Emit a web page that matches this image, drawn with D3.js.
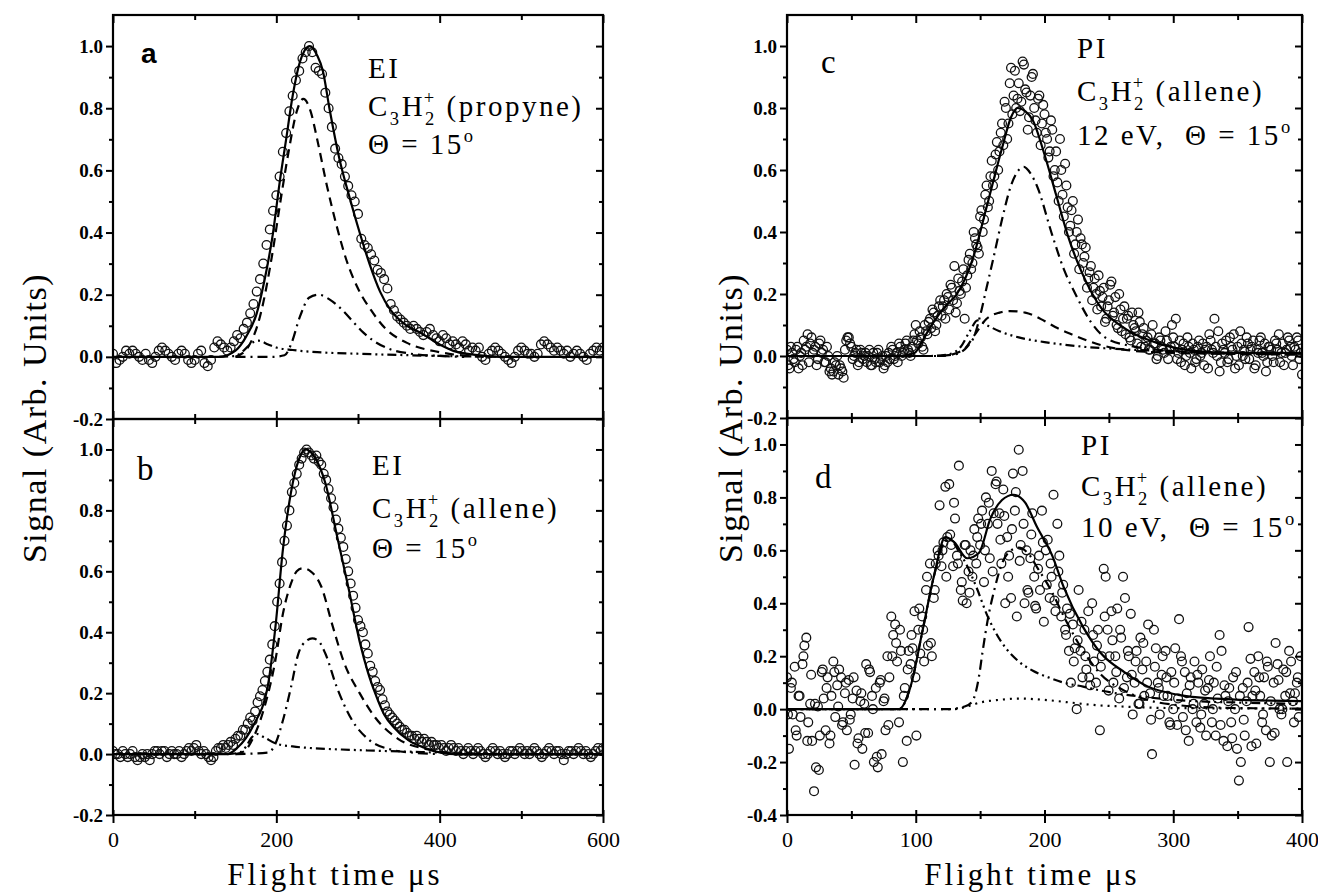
<!DOCTYPE html>
<html>
<head>
    <style>
        html, body { margin: 0; padding: 0; background: #fff; overflow: hidden; }
    </style>
</head>
<body>
<script src="https://d3js.org/d3.v7.min.js"></script>
<script>
    const width = 1318;
    const height = 894;
    const serif = "'Liberation Serif', 'Times New Roman', serif";

    // ---- tick values ----
    const xTicksEI = [0, 200, 400, 600];
    const xMinorEI = [100, 300, 500];
    const xTicksPI = [0, 100, 200, 300, 400];
    const xMinorPI = [50, 150, 250, 350];
    const yTicksAB = [-0.2, 0, 0.2, 0.4, 0.6, 0.8, 1.0];
    const yMinorAB = [-0.1, 0.1, 0.3, 0.5, 0.7, 0.9];
    const yTicksD = [-0.4, -0.2, 0, 0.2, 0.4, 0.6, 0.8, 1.0];
    const yMinorD = [-0.3, -0.1, 0.1, 0.3, 0.5, 0.7, 0.9];

    // ---- panel a : EI, propyne (signal sampled every 4 us from 0) ----
    const aSignal = [
        0.01,-0.02,-0.01,0.00,0.02,0.01,0.02,0.01,0.00,-0.01,0.01,-0.01,-0.02,0.00,0.02,0.03,0.02,0.01,0.00,-0.01,
        0.01,0.02,0.01,-0.01,-0.02,-0.01,0.01,0.02,-0.02,-0.03,-0.01,0.03,0.05,0.04,0.03,0.02,
        0.03,0.05,0.07,0.06,0.09,0.11,0.14,0.17,0.21,0.25,0.30,0.36,0.41,0.47,0.52,0.58,0.66,0.72,0.79,0.84,0.89,0.92,0.96,0.98,1.00,
        0.98,0.93,0.92,0.91,0.85,0.80,0.74,0.67,0.64,0.62,0.58,0.55,0.52,0.50,0.46,0.38,0.36,0.35,0.33,0.31,0.28,0.27,0.25,0.22,0.17,
        0.15,0.13,0.12,0.11,0.10,0.09,0.10,0.09,0.08,0.07,0.08,0.09,0.07,0.06,0.05,0.07,0.06,0.04,0.05,0.04,0.03,0.05,0.04,0.02,0.03,
        0.02,0.03,0.00,-0.01,0.01,0.02,0.03,0.02,0.01,0.00,-0.01,-0.02,0.00,0.02,0.03,0.02,0.01,0.01,0.00,0.01,
        0.04,0.05,0.04,0.03,0.02,0.03,0.02,0.01,0.02,0.00,0.01,0.02,0.01,0.00,-0.01,0.01,0.02,0.03,0.02,0.03
    ];
    const aTotal = [[0,0],[130,0],[150,0.02],[163,0.065],[176,0.14],[185,0.24],[196,0.40],[204,0.56],[212,0.70],[220,0.84],[229,0.95],[241,1.0],[250,0.97],[257,0.92],[265,0.80],[277,0.64],[290,0.51],[302,0.40],[314,0.30],[327,0.21],[340,0.15],[360,0.10],[377,0.077],[400,0.04],[421,0.016],[450,0.005],[480,0],[600,0]];
    const aDashed = [[150,0],[165,0.03],[180,0.13],[195,0.33],[205,0.50],[215,0.66],[225,0.79],[233,0.83],[242,0.79],[250,0.70],[262,0.55],[274,0.42],[286,0.31],[300,0.22],[316,0.15],[334,0.09],[360,0.045],[400,0.015],[430,0.004],[460,0]];
    const aDashDot = [[150,0],[195,0],[210,0.005],[218,0.04],[229,0.13],[240,0.19],[252,0.2],[265,0.185],[281,0.15],[295,0.11],[307,0.077],[320,0.05],[334,0.03],[365,0.01],[400,0.003],[430,0]];
    const aDashDotDot = [[130,0],[150,0.003],[160,0.02],[170,0.045],[178,0.052],[190,0.04],[200,0.03],[220,0.022],[250,0.015],[300,0.01],[350,0.006],[400,0.003],[450,0.001],[480,0]];

    // ---- panel b : EI, allene (signal sampled every 3 us from 0) ----
    const bSignal = [
        0.01,0.00,0.00,-0.01,0.01,0.00,-0.01,0.00,0.01,-0.01,-0.02,-0.01,0.00,-0.01,0.00,-0.02,0.00,0.01,0.01,0.00,
        0.01,0.01,-0.01,0.00,0.01,0.00,0.00,0.01,-0.01,0.00,0.01,0.02,0.01,0.02,0.03,0.01,0.00,0.01,0.00,-0.01,
        -0.02,-0.01,0.01,0.02,0.02,0.03,0.02,
        0.03,0.04,0.03,0.05,0.06,0.06,0.08,0.08,0.10,0.12,0.11,0.14,0.17,0.19,0.21,0.24,0.27,0.31,0.36,0.42,
        0.50,0.56,0.63,0.70,0.75,0.80,0.86,0.89,0.92,0.95,0.97,0.99,1.00,
        0.99,0.98,0.97,0.98,0.96,0.95,0.92,0.90,0.87,0.84,0.81,0.77,0.74,0.71,0.68,0.64,0.60,0.56,0.52,0.48,
        0.44,0.42,0.40,0.36,0.33,0.29,0.27,0.24,0.22,0.21,0.18,0.16,0.14,
        0.13,0.12,0.11,0.10,0.09,0.08,0.08,0.07,0.06,0.06,0.05,0.06,0.05,0.04,0.05,0.04,0.03,0.04,0.03,0.03,
        0.02,0.03,0.02,0.01,0.02,0.03,0.02,0.01,0.02,0.01,0.00,0.01,0.02,0.01,
        0.00,0.01,0.02,0.01,0.00,-0.01,0.00,0.01,0.02,0.01,0.00,0.01,0.00,-0.01,0.00,0.01,0.01,0.00,0.01,0.02,
        0.01,0.00,0.01,0.00,0.01,0.02,0.01,0.00,-0.01,0.00,0.01,0.02,0.01,0.00,0.01,0.01,0.00,-0.02,0.00,0.01,
        0.01,0.00,0.01,0.02,0.01,0.00,0.01,0.00,-0.01,0.00,0.01,0.02,0.01,0.02
    ];
    const bTotal = [[0,0],[140,0],[152,0.02],[171,0.09],[190,0.23],[199,0.42],[208,0.67],[218,0.86],[228,0.97],[236,1.0],[248,0.97],[260,0.89],[274,0.72],[288,0.55],[302,0.37],[312,0.27],[321,0.20],[332,0.13],[344,0.087],[362,0.045],[382,0.02],[401,0.005],[420,0],[600,0]];
    const bDashed = [[150,0],[161,0.01],[171,0.05],[185,0.15],[199,0.31],[208,0.46],[218,0.56],[225,0.60],[232,0.61],[242,0.60],[255,0.55],[269,0.42],[283,0.30],[302,0.20],[321,0.12],[349,0.05],[386,0.015],[410,0.004],[430,0]];
    const bDashDot = [[150,0],[190,0.005],[199,0.035],[208,0.11],[218,0.22],[227,0.33],[236,0.37],[244,0.38],[252,0.37],[260,0.33],[274,0.22],[293,0.11],[312,0.05],[340,0.015],[370,0.004],[400,0]];
    const bDashDotDot = [[140,0],[155,0.005],[163,0.025],[170,0.055],[176,0.066],[185,0.055],[199,0.035],[220,0.025],[241,0.02],[280,0.015],[311,0.012],[360,0.008],[401,0.005],[440,0.002],[470,0]];

    // ---- panel c : PI 12 eV (two interleaved scans, every 2 us from 0 and from 1) ----
    const cSignal = [
        0.02,-0.04,0.01,-0.02,0.03,0.00,-0.03,0.02,0.07,0.04,
        0.01,0.03,-0.01,0.05,0.02,-0.02,0.00,-0.04,-0.05,-0.03,
        -0.06,-0.04,-0.07,0.05,0.06,0.03,0.00,0.02,-0.02,0.01,
        0.00,-0.02,0.02,-0.03,-0.01,0.01,-0.02,0.00,-0.03,-0.02,
        -0.01,0.02,0.00,-0.02,0.03,0.01,0.04,0.02,0.00,0.05,
        0.10,0.04,0.06,0.02,0.08,0.11,0.09,0.14,0.10,0.16,
        0.13,0.18,0.20,0.15,0.22,0.29,0.17,0.21,0.24,0.12,
        0.26,0.33,0.30,0.38,0.35,0.45,0.40,0.52,0.48,0.58,
        0.55,0.65,0.60,0.72,0.68,0.80,0.75,0.93,0.84,0.80,
        0.88,0.82,0.94,0.85,0.77,0.90,0.80,0.72,0.84,0.75,
        0.78,0.70,0.66,0.73,0.60,0.56,0.70,0.52,0.62,0.48,
        0.42,0.50,0.36,0.44,0.38,0.30,0.35,0.25,0.29,0.22,
        0.20,0.26,0.16,0.22,0.12,0.18,0.24,0.14,0.10,0.20,
        0.08,0.16,0.12,0.06,0.14,0.09,0.04,0.11,0.07,0.03,
        0.06,0.02,0.10,0.04,0.00,0.05,0.02,0.08,-0.01,0.03,
        0.06,0.12,0.01,-0.02,0.04,0.00,0.03,-0.04,0.02,-0.01,
        0.05,0.01,-0.03,0.03,0.07,0.02,0.12,0.00,-0.05,0.04,
        0.01,-0.02,0.06,0.02,-0.04,0.03,0.08,0.00,-0.01,0.04,
        0.02,0.05,-0.03,0.01,0.06,0.00,-0.05,0.03,0.02,-0.02,
        0.04,0.07,0.01,-0.03,0.02,0.05,0.00,0.03,0.06,-0.01,
        -0.06
    ];
    const cSignalOdd = [
        -0.03,0.03,-0.01,0.02,-0.04,0.01,0.05,0.03,-0.02,0.06,
        0.02,-0.03,0.04,0.01,-0.02,0.03,-0.05,-0.06,-0.02,0.00,
        -0.03,-0.05,0.02,0.06,0.04,-0.01,0.01,-0.03,0.02,-0.01,
        0.01,0.00,-0.03,0.01,-0.02,0.02,-0.01,-0.04,0.00,0.01,
        0.03,-0.01,0.01,0.04,0.00,0.02,0.05,0.01,0.03,0.07,
        0.05,0.08,0.03,0.10,0.07,0.12,0.15,0.08,0.13,0.18,
        0.16,0.12,0.19,0.23,0.18,0.14,0.25,0.20,0.28,0.22,
        0.31,0.28,0.40,0.36,0.33,0.47,0.44,0.55,0.50,0.63,
        0.58,0.69,0.66,0.75,0.82,0.70,0.88,0.78,0.92,0.83,
        0.79,0.95,0.86,0.73,0.84,0.91,0.76,0.83,0.68,0.81,
        0.72,0.64,0.76,0.58,0.66,0.50,0.60,0.45,0.55,0.40,
        0.47,0.33,0.40,0.28,0.36,0.32,0.22,0.27,0.18,0.25,
        0.15,0.21,0.19,0.11,0.16,0.23,0.13,0.19,0.09,0.15,
        0.12,0.07,0.13,0.05,0.10,0.08,0.14,0.03,0.09,0.05,
        0.02,0.07,0.04,-0.01,0.06,0.03,0.01,0.05,0.02,0.10,
        0.03,-0.01,0.05,0.02,-0.03,0.06,0.01,0.04,-0.02,0.03,
        0.00,0.04,0.02,-0.04,0.05,0.01,0.03,0.08,-0.02,0.02,
        0.05,-0.01,0.03,0.07,0.00,-0.03,0.04,0.02,0.06,-0.01,
        0.03,-0.04,0.02,0.05,0.01,0.04,-0.02,0.03,0.00,0.05,
        0.02,-0.02,0.04,0.01,0.06,0.03,-0.03,0.02,0.05,0.01
    ];
    const cTotal = [[0,0],[88,0],[99,0.01],[108,0.07],[114,0.11],[123,0.16],[132,0.20],[144,0.31],[155,0.48],[167,0.67],[174,0.77],[179,0.80],[185,0.79],[191,0.76],[200,0.65],[209,0.52],[218,0.39],[230,0.26],[244,0.155],[262,0.09],[289,0.04],[318,0.016],[350,0.01],[400,0.01]];
    const cDashed = [[0,0],[120,0],[137,0.02],[146,0.07],[155,0.12],[165,0.14],[173,0.145],[185,0.14],[200,0.113],[210,0.09],[221,0.07],[244,0.035],[274,0.015],[320,0.008],[400,0.005]];
    const cDashDot = [[0,0],[115,0],[130,0.005],[140,0.03],[146,0.07],[150,0.13],[155,0.22],[160,0.31],[167,0.44],[174,0.55],[180,0.60],[184,0.61],[189,0.59],[194,0.55],[206,0.39],[215,0.28],[224,0.20],[236,0.11],[247,0.06],[270,0.03],[304,0.015],[350,0.008],[400,0.005]];
    const cDashDotDot = [[0,0],[110,0],[125,0.005],[135,0.03],[142,0.08],[148,0.115],[155,0.10],[165,0.08],[180,0.06],[200,0.045],[230,0.03],[260,0.022],[300,0.015],[350,0.01],[400,0.008]];

    // ---- panel d : PI 10 eV (scan every 1.5 us from 0, second scan every 3 us from 0.75) ----
    const dSignal = [
        0.12,-0.15,0.08,-0.02,0.16,-0.10,0.05,-0.03,0.17,0.24,
        0.27,-0.05,0.02,-0.12,-0.31,-0.22,0.01,-0.10,0.14,0.04,
        -0.08,0.12,-0.13,0.05,0.18,-0.03,0.09,0.15,0.12,-0.05,
        0.06,-0.08,0.11,-0.02,0.04,-0.21,0.07,-0.11,0.03,-0.15,
        0.02,0.17,-0.09,0.14,0.05,-0.20,0.08,-0.22,0.10,-0.17,
        0.03,-0.08,0.20,0.12,0.35,0.28,0.32,0.18,-0.05,0.22,
        -0.20,0.08,-0.12,0.22,0.17,0.23,0.37,-0.10,0.30,0.21,
        0.35,0.18,0.45,0.24,0.55,0.20,0.42,0.55,0.60,0.77,
        0.54,0.63,0.84,0.65,0.85,0.62,0.54,0.72,0.58,0.92,
        0.45,0.41,0.62,0.40,0.52,0.60,0.50,0.68,0.55,0.72,
        0.62,0.75,0.48,0.80,0.70,0.57,0.90,0.74,0.85,0.70,
        0.74,0.55,0.83,0.40,0.65,0.58,0.42,0.89,0.75,0.35,
        0.98,0.62,0.90,0.40,0.60,0.44,0.57,0.74,0.50,0.38,
        0.53,0.45,0.75,0.33,0.60,0.64,0.42,0.50,0.81,0.37,
        0.70,0.58,0.35,0.47,0.30,0.38,0.22,0.10,0.32,0.23,
        0.00,0.45,0.22,0.12,0.30,0.15,0.37,0.09,0.40,0.18,
        0.10,0.30,-0.08,0.20,0.53,0.50,0.30,0.20,0.37,0.10,
        0.20,0.38,0.04,0.27,0.50,0.42,0.12,0.20,0.36,-0.02,
        0.10,0.22,0.02,0.27,0.15,0.05,0.18,0.32,0.06,-0.17,
        0.30,0.23,0.10,-0.02,0.13,0.05,0.22,0.05,-0.05,0.14,
        0.00,0.23,-0.06,0.34,0.20,-0.03,0.14,0.06,-0.12,0.12,
        0.00,0.18,-0.05,0.10,-0.07,0.15,0.02,-0.10,0.08,0.20,
        -0.05,0.10,-0.10,0.04,0.28,0.22,-0.12,0.05,-0.14,0.08,
        -0.05,0.12,0.00,-0.15,-0.27,-0.20,0.08,-0.10,0.03,0.31,
        0.19,0.05,0.14,-0.13,0.20,0.05,-0.05,0.12,-0.08,0.16,
        -0.20,-0.10,0.10,0.25,0.17,0.00,-0.02,0.15,0.05,-0.20,
        0.22,0.18,0.03,0.06,0.10,-0.03,0.20
    ];
    const dSignalB = [
        -0.02,0.10,-0.08,0.05,0.20,-0.12,0.13,0.02,-0.23,0.15,
        0.08,-0.10,0.14,0.01,-0.06,0.10,-0.04,0.12,-0.13,0.06,
        -0.09,0.15,0.00,-0.18,0.11,0.04,-0.06,0.20,0.25,0.30,
        0.05,0.15,0.28,0.12,0.38,0.30,0.50,0.25,0.45,0.58,
        0.60,0.50,0.66,0.78,0.55,0.48,0.62,0.44,0.58,0.65,
        0.70,0.60,0.78,0.52,0.86,0.64,0.73,0.50,0.68,0.82,
        0.56,0.70,0.45,0.66,0.39,0.58,0.63,0.47,0.55,0.41,
        0.52,0.44,0.28,0.36,0.18,0.26,0.33,0.20,0.12,0.28,
        0.24,0.16,0.35,0.07,0.26,0.14,0.30,0.08,0.22,0.13,
        0.18,0.02,0.25,0.10,-0.04,0.16,0.08,0.20,0.12,-0.06,
        0.10,0.04,0.18,-0.08,0.09,0.02,0.13,-0.02,0.07,0.11,
        0.00,0.16,-0.06,0.09,0.03,-0.11,0.14,0.05,-0.04,0.10,
        -0.14,0.07,0.12,-0.02,0.18,0.03,-0.09,0.11,0.00,0.14,
        0.06,-0.05,0.12
    ];
    const dTotal = [[0,0],[87,0],[96,0.086],[105,0.29],[114,0.50],[123,0.65],[130,0.63],[140,0.57],[149,0.59],[158,0.72],[167,0.79],[176,0.81],[185,0.78],[194,0.69],[206,0.58],[215,0.46],[230,0.31],[244,0.21],[262,0.14],[280,0.086],[304,0.054],[333,0.04],[400,0.03]];
    const dDashDot = [[0,0],[125,0],[138,0.01],[144,0.03],[149,0.12],[152,0.22],[156,0.34],[161,0.45],[167,0.55],[174,0.60],[180,0.61],[187,0.59],[195,0.53],[205,0.45],[215,0.35],[230,0.22],[244,0.13],[262,0.07],[280,0.035],[304,0.015],[340,0.005],[400,0.002]];
    const dDashDotDot = [[0,0],[87,0],[96,0.086],[105,0.29],[114,0.50],[121,0.62],[126,0.645],[133,0.60],[140,0.54],[148,0.45],[155,0.36],[162,0.29],[170,0.23],[180,0.18],[191,0.145],[203,0.12],[215,0.10],[230,0.085],[244,0.07],[262,0.055],[274,0.048],[300,0.035],[317,0.03],[350,0.025],[400,0.02]];
    const dDotted = [[0,0],[130,0],[140,0.01],[150,0.025],[165,0.035],[180,0.04],[200,0.035],[220,0.025],[240,0.015],[260,0.01],[280,0.006],[300,0.004],[400,0.002]];

    const dashStyles = {
        solid: null,
        dashed: "9,6",
        dashDot: "10,5,2,5",
        dashDotDot: "9,4,2,4,2,4",
        dotted: "2,5"
    };

    const svg = d3.select("body").append("svg")
        .attr("width", width)
        .attr("height", height)
        .style("background", "#fff");

    const fmt = d => d.toFixed(1);

    function drawPanel(p) {
        const x = d3.scaleLinear().domain(p.xDomain).range([p.x0, p.x1]);
        const y = d3.scaleLinear().domain(p.yDomain).range([p.yBottom, p.yTop]);
        const g = svg.append("g");

        const clipId = "clip-" + p.id;
        svg.append("clipPath").attr("id", clipId)
            .append("rect")
            .attr("x", p.x0).attr("y", p.yTop)
            .attr("width", p.x1 - p.x0).attr("height", p.yBottom - p.yTop);

        const plot = g.append("g").attr("clip-path", `url(#${clipId})`);

        // data circles, one group per scan
        p.scans.forEach(scan => {
            plot.append("g").selectAll("circle")
                .data(scan.values)
                .join("circle")
                .attr("cx", (d, i) => x(scan.t0 + i * scan.step))
                .attr("cy", d => y(d))
                .attr("r", 4.4)
                .attr("fill", "none")
                .attr("stroke", "#111")
                .attr("stroke-width", 1.3);
        });

        // fitted curves
        const line = d3.line()
            .x(d => x(d[0]))
            .y(d => y(d[1]))
            .curve(d3.curveMonotoneX);

        p.curves.forEach(c => {
            plot.append("path")
                .attr("d", line(c.data))
                .attr("fill", "none")
                .attr("stroke", "#000")
                .attr("stroke-width", 2.2)
                .attr("stroke-dasharray", dashStyles[c.style]);
        });

        // frame
        g.append("rect")
            .attr("x", p.x0).attr("y", p.yTop)
            .attr("width", p.x1 - p.x0).attr("height", p.yBottom - p.yTop)
            .attr("fill", "none")
            .attr("stroke", "#000")
            .attr("stroke-width", 2.2);

        const style = sel => {
            sel.select(".domain").remove();
            sel.selectAll(".tick line").attr("stroke", "#000").attr("stroke-width", 2);
            sel.selectAll("text")
                .attr("font-family", serif)
                .attr("font-size", 19)
                .attr("font-weight", "bold")
                .attr("fill", "#000");
        };

        // left axis: outward ticks with labels
        g.append("g").attr("transform", `translate(${p.x0},0)`)
            .call(d3.axisLeft(y).tickValues(p.yTicks).tickFormat(fmt).tickSize(7).tickPadding(3))
            .call(style);
        g.append("g").attr("transform", `translate(${p.x0},0)`)
            .call(d3.axisLeft(y).tickValues(p.yMinor).tickFormat("").tickSize(4))
            .call(style);

        // right axis: inward ticks
        g.append("g").attr("transform", `translate(${p.x1},0)`)
            .call(d3.axisLeft(y).tickValues(p.yTicks).tickFormat("").tickSize(7))
            .call(style);
        g.append("g").attr("transform", `translate(${p.x1},0)`)
            .call(d3.axisLeft(y).tickValues(p.yMinor).tickFormat("").tickSize(4))
            .call(style);

        // top edge
        if (p.top === "inner") {
            g.append("g").attr("transform", `translate(0,${p.yTop})`)
                .call(d3.axisBottom(x).tickValues(p.xTicks).tickFormat("").tickSize(8))
                .call(style);
            g.append("g").attr("transform", `translate(0,${p.yTop})`)
                .call(d3.axisBottom(x).tickValues(p.xMinor).tickFormat("").tickSize(5))
                .call(style);
        }
        // bottom edge
        if (p.bottom === "shared") {
            g.append("g").attr("transform", `translate(0,${p.yBottom})`)
                .call(d3.axisBottom(x).tickValues(p.xTicks).tickFormat("").tickSize(8))
                .call(style)
                .call(s => s.selectAll(".tick line").attr("y1", -8));
            g.append("g").attr("transform", `translate(0,${p.yBottom})`)
                .call(d3.axisBottom(x).tickValues(p.xMinor).tickFormat("").tickSize(5))
                .call(style)
                .call(s => s.selectAll(".tick line").attr("y1", -5));
        } else {
            g.append("g").attr("transform", `translate(0,${p.yBottom})`)
                .call(d3.axisBottom(x).tickValues(p.xTicks).tickFormat(d3.format("d")).tickSize(8).tickPadding(8))
                .call(style)
                .call(s => s.selectAll(".tick line").attr("y1", -5))
                .call(s => s.selectAll("text").attr("font-weight", "normal").attr("font-size", 22));
            g.append("g").attr("transform", `translate(0,${p.yBottom})`)
                .call(d3.axisBottom(x).tickValues(p.xMinor).tickFormat("").tickSize(4))
                .call(style)
                .call(s => s.selectAll(".tick line").attr("y1", -4));
        }
    }

    function richText(x, y, parts, size, opts = {}) {
        const t = svg.append("text")
            .attr("x", x).attr("y", y)
            .attr("font-family", opts.family || serif)
            .attr("font-size", size)
            .attr("font-weight", opts.weight || "normal")
            .attr("letter-spacing", opts.spacing == null ? 2.5 : opts.spacing)
            .style("white-space", "pre")
            .attr("fill", "#000");
        let shift = 0;
        parts.forEach(part => {
            const s = typeof part === "string" ? { s: part } : part;
            const target = s.sub ? size * 0.3 : s.sup ? -size * 0.42 : 0;
            const ts = t.append("tspan").attr("dy", target - shift).text(s.s);
            if (s.sub || s.sup) ts.attr("font-size", size * 0.64);
            if (s.dx) ts.attr("dx", s.dx);
            shift = target;
        });
        return t;
    }

    const L = { x0: 113, x1: 603 };
    const R = { x0: 787, x1: 1302 };

    drawPanel({
        id: "a", x0: L.x0, x1: L.x1, yTop: 15, yBottom: 419,
        xDomain: [0, 600], yDomain: [-0.2, 1.1],
        xTicks: xTicksEI, xMinor: xMinorEI, yTicks: yTicksAB, yMinor: yMinorAB,
        top: "inner", bottom: "shared",
        scans: [{ values: aSignal, t0: 0, step: 4 }],
        curves: [
            { data: aTotal, style: "solid" },
            { data: aDashed, style: "dashed" },
            { data: aDashDot, style: "dashDot" },
            { data: aDashDotDot, style: "dashDotDot" }
        ]
    });
    drawPanel({
        id: "b", x0: L.x0, x1: L.x1, yTop: 419, yBottom: 815,
        xDomain: [0, 600], yDomain: [-0.2, 1.1],
        xTicks: xTicksEI, xMinor: xMinorEI, yTicks: yTicksAB, yMinor: yMinorAB,
        top: "none", bottom: "labels",
        scans: [{ values: bSignal, t0: 0, step: 3 }],
        curves: [
            { data: bTotal, style: "solid" },
            { data: bDashed, style: "dashed" },
            { data: bDashDot, style: "dashDot" },
            { data: bDashDotDot, style: "dashDotDot" }
        ]
    });
    drawPanel({
        id: "c", x0: R.x0, x1: R.x1, yTop: 15, yBottom: 418,
        xDomain: [0, 400], yDomain: [-0.2, 1.1],
        xTicks: xTicksPI, xMinor: xMinorPI, yTicks: yTicksAB, yMinor: yMinorAB,
        top: "inner", bottom: "shared",
        scans: [{ values: cSignal, t0: 0, step: 2 }, { values: cSignalOdd, t0: 1, step: 2 }],
        curves: [
            { data: cTotal, style: "solid" },
            { data: cDashed, style: "dashed" },
            { data: cDashDot, style: "dashDot" },
            { data: cDashDotDot, style: "dashDotDot" }
        ]
    });
    drawPanel({
        id: "d", x0: R.x0, x1: R.x1, yTop: 418, yBottom: 815,
        xDomain: [0, 400], yDomain: [-0.4, 1.1],
        xTicks: xTicksPI, xMinor: xMinorPI, yTicks: yTicksD, yMinor: yMinorD,
        top: "none", bottom: "labels",
        scans: [{ values: dSignal, t0: 0, step: 1.5 }, { values: dSignalB, t0: 0.75, step: 3 }],
        curves: [
            { data: dTotal, style: "solid" },
            { data: dDashDot, style: "dashDot" },
            { data: dDashDotDot, style: "dashDotDot" },
            { data: dDotted, style: "dotted" }
        ]
    });

    // panel letters
    richText(141, 63, ["a"], 28, { family: "'Liberation Sans', Arial, sans-serif", weight: "bold", spacing: 0 });
    richText(137, 480, ["b"], 33, { spacing: 0 });
    richText(821, 73, ["c"], 33, { spacing: 0 });
    richText(815, 488, ["d"], 33, { spacing: 0 });

    // annotations
    const c3h2 = tail => ["C", { s: "3", sub: true }, "H", { s: "2", sub: true }, { s: "+", sup: true, dx: -13 }, tail];
    const ann = 29;
    richText(368, 78, ["EI"], ann);
    richText(368, 116, c3h2(" (propyne)"), ann);
    richText(368, 154, ["\u0398 = 15", { s: "o", sup: true }], ann);

    richText(372, 475, ["EI"], ann);
    richText(372, 518, c3h2(" (allene)"), ann);
    richText(372, 558, ["\u0398 = 15", { s: "o", sup: true }], ann);

    richText(1077, 58, ["PI"], ann);
    richText(1077, 101, c3h2(" (allene)"), ann);
    richText(1077, 145, ["12 eV,  \u0398 = 15", { s: "o", sup: true }], ann);

    richText(1081, 455, ["PI"], ann);
    richText(1081, 496, c3h2(" (allene)"), ann);
    richText(1081, 537, ["10 eV,  \u0398 = 15", { s: "o", sup: true }], ann);

    // axis titles
    const yTitle = (x) => svg.append("text")
        .attr("transform", `translate(${x},418) rotate(-90)`)
        .attr("text-anchor", "middle")
        .attr("font-family", serif)
        .attr("font-size", 34)
        .attr("letter-spacing", 1.5)
        .text("Signal (Arb. Units)");
    yTitle(46);
    yTitle(742);

    const xTitle = (x) => svg.append("text")
        .attr("x", x).attr("y", 885)
        .attr("text-anchor", "middle")
        .attr("font-family", serif)
        .attr("font-size", 31)
        .attr("letter-spacing", 3)
        .text("Flight time \u03bcs");
    xTitle(335);
    xTitle(1032);
</script>
</body>
</html>
